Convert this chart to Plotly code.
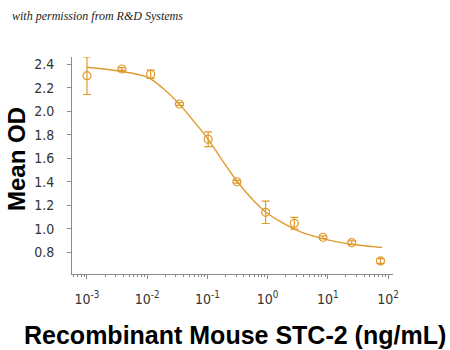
import plotly.graph_objects as go

# Data
conc = [0.001, 0.0038, 0.0114, 0.0343, 0.103, 0.309, 0.926, 2.78, 8.33, 25.0, 75.0]
mean_od = [2.303, 2.36, 2.315, 2.062, 1.762, 1.40, 1.14, 1.047, 0.928, 0.882, 0.726]
err_od = [0.16, 0.012, 0.035, 0.012, 0.063, 0.012, 0.095, 0.05, 0.012, 0.015, 0.02]

curve_x = [0.001, 0.00316, 0.01, 0.0178, 0.0316, 0.0562, 0.1, 0.178, 0.316,
           0.562, 1.0, 1.78, 3.16, 5.62, 10.0, 17.8, 31.6, 56.2, 79.4]
curve_y = [2.375, 2.345, 2.29, 2.20, 2.08, 1.93, 1.77, 1.58, 1.40,
           1.25, 1.13, 1.05, 0.985, 0.94, 0.905, 0.88, 0.862, 0.848, 0.84]

x_tickvals = [0.001, 0.01, 0.1, 1, 10, 100]
x_ticktext = ["10<sup>-3</sup>", "10<sup>-2</sup>", "10<sup>-1</sup>",
              "10<sup>0</sup>", "10<sup>1</sup>", "10<sup>2</sup>"]
y_tickvals = [0.8, 1.0, 1.2, 1.4, 1.6, 1.8, 2.0, 2.2, 2.4]
minor_mult = [2, 3, 4, 5, 6, 7, 8, 9]
minor_vals = [m * d for d in [0.0001, 0.001, 0.01, 0.1, 1, 10] for m in minor_mult]

ORANGE = "#E09A2C"
TICKFONT = dict(family="Liberation Sans Narrow, DejaVu Sans Condensed, Arial Narrow, sans-serif",
                size=14, color="#333333")

fig = go.Figure()
fig.add_trace(go.Scatter(
    x=curve_x, y=curve_y, mode="lines",
    line=dict(color=ORANGE, width=1.4, shape="spline", smoothing=1.0),
    hoverinfo="skip", showlegend=False))
fig.add_trace(go.Scatter(
    x=conc, y=mean_od, mode="markers",
    marker=dict(symbol="circle-open", size=8, color=ORANGE, line=dict(width=1.2, color=ORANGE)),
    error_y=dict(type="data", array=err_od, visible=True, color=ORANGE, thickness=1.2, width=4),
    showlegend=False))

fig.update_layout(
    width=450, height=350,
    margin=dict(l=72, r=57, t=57, b=76),
    paper_bgcolor="white", plot_bgcolor="white",
    xaxis=dict(type="log", range=[-3.249, 2.083],
               tickvals=x_tickvals, ticktext=x_ticktext,
               showline=True, linecolor="#8a8a8a", linewidth=1,
               ticks="outside", ticklen=4, tickcolor="#8a8a8a",
               minor=dict(ticks="outside", ticklen=2, tickcolor="#8a8a8a",
                          tickmode="array", tickvals=minor_vals, showgrid=False),
               showgrid=False, zeroline=False, tickfont=TICKFONT,
               ticklabelstandoff=8),
    yaxis=dict(range=[0.615, 2.462], tickvals=y_tickvals, tickformat=".1f",
               showline=True, linecolor="#8a8a8a", linewidth=1,
               ticks="outside", ticklen=4, tickcolor="#8a8a8a",
               showgrid=False, zeroline=False, tickfont=TICKFONT,
               ticklabelstandoff=10),
    annotations=[
        dict(text="Mean OD", xref="paper", yref="paper", x=-72/321 + 16/321, y=1 - (159-57)/217,
             xanchor="center", yanchor="middle", textangle=-90, showarrow=False,
             font=dict(family="Liberation Sans, Arial, sans-serif", size=24, color="black", weight="bold")),
        dict(text="Recombinant Mouse STC-2 (ng/mL)", xref="paper", yref="paper",
             x=(235-72)/321, y=-(335-274)/217, xanchor="center", yanchor="middle", showarrow=False,
             font=dict(family="Liberation Sans, Arial, sans-serif", size=25, color="black", weight="bold")),
        dict(text="<i>with permission from R&amp;D Systems</i>", xref="paper", yref="paper",
             x=-(72-10)/321, y=1 + (57-16)/217, xanchor="left", yanchor="middle", showarrow=False,
             font=dict(family="Liberation Serif, DejaVu Serif, serif", size=12, color="#222222")),
    ],
)

fig.write_html("out.html")
